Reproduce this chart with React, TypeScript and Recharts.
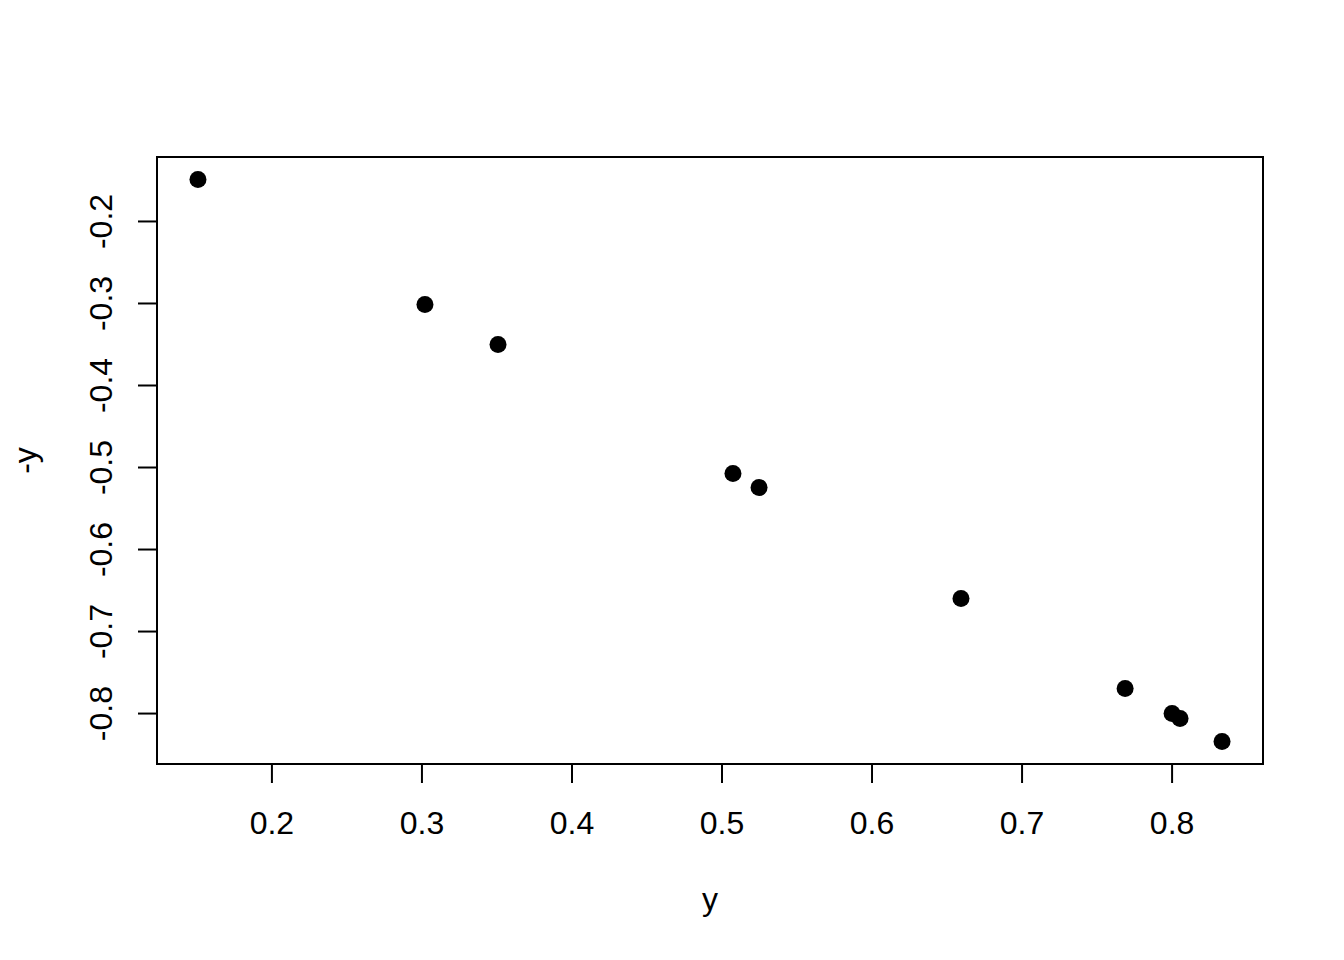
import React from "react";
import { ScatterChart, Scatter, XAxis, YAxis, ReferenceArea } from "recharts";

const xValues = [0.1507, 0.302, 0.3507, 0.5073, 0.5247, 0.6593, 0.7687, 0.8, 0.8053, 0.8333];
const yValues = [-0.1488, -0.3012, -0.35, -0.5073, -0.5244, -0.6598, -0.7695, -0.8, -0.8061, -0.8341];
const xTicks = [0.2, 0.3, 0.4, 0.5, 0.6, 0.7, 0.8];
const yTicks = [-0.2, -0.3, -0.4, -0.5, -0.6, -0.7, -0.8];
const xDomain = [0.1234, 0.8606];
const yDomain = [-0.8615, -0.1214];
const xTitle = "y";
const yTitle = "-y";

const data = xValues.map((x, i) => ({ x, y: yValues[i] }));

const FONT = "'Liberation Sans', Arial, Helvetica, sans-serif";

const YTick = (p: any) => (
  <text
    x={p.x}
    y={p.y}
    transform={`rotate(-90, ${p.x}, ${p.y})`}
    textAnchor="middle"
    fontSize={32}
    fontFamily={FONT}
    fill="#000"
  >
    {p.payload.value.toFixed(1)}
  </text>
);

const XTick = (p: any) => (
  <text
    x={p.x}
    y={p.y + 23}
    textAnchor="middle"
    fontSize={32}
    fontFamily={FONT}
    fill="#000"
  >
    {p.payload.value.toFixed(1)}
  </text>
);

const YTitle = (p: any) => {
  const vb = p.viewBox;
  const cx = vb.x + 36;
  const cy = vb.y + vb.height / 2;
  return (
    <text
      x={cx}
      y={cy}
      transform={`rotate(-90, ${cx}, ${cy})`}
      textAnchor="middle"
      fontSize={32}
      fontFamily={FONT}
      fill="#000"
    >
      {yTitle}
    </text>
  );
};

const XTitle = (p: any) => {
  const vb = p.viewBox;
  return (
    <text
      x={vb.x + vb.width / 2}
      y={vb.y + 146}
      textAnchor="middle"
      fontSize={32}
      fontFamily={FONT}
      fill="#000"
    >
      {xTitle}
    </text>
  );
};

const Dot = (p: any) => <circle cx={p.cx} cy={p.cy} r={8.5} fill="#000" />;

export default function App() {
  return (
    <div style={{ position: "absolute", left: 0, top: 0, background: "#fff" }}>
      <ScatterChart
        width={1344}
        height={960}
        margin={{ top: 157, right: 81, bottom: 0, left: 0 }}
      >
        <XAxis
          type="number"
          dataKey="x"
          domain={xDomain}
          ticks={xTicks}
          allowDataOverflow
          height={196}
          axisLine={false}
          tickLine={{ stroke: "#000", strokeWidth: 2 }}
          tickSize={19}
          tickMargin={28}
          tick={<XTick />}
          interval={0}
          label={{ content: <XTitle /> }}
        />
        <YAxis
          type="number"
          dataKey="y"
          domain={yDomain}
          ticks={yTicks}
          allowDataOverflow
          width={157}
          axisLine={false}
          tickLine={{ stroke: "#000", strokeWidth: 2 }}
          tickSize={19}
          tickMargin={26}
          tick={<YTick />}
          interval={0}
          label={{ content: <YTitle /> }}
        />
        <ReferenceArea
          x1={xDomain[0]}
          x2={xDomain[1]}
          y1={yDomain[0]}
          y2={yDomain[1]}
          fill="none"
          fillOpacity={0}
          stroke="#000"
          strokeWidth={2}
          ifOverflow="visible"
        />
        <Scatter data={data} shape={<Dot />} isAnimationActive={false} />
      </ScatterChart>
    </div>
  );
}
